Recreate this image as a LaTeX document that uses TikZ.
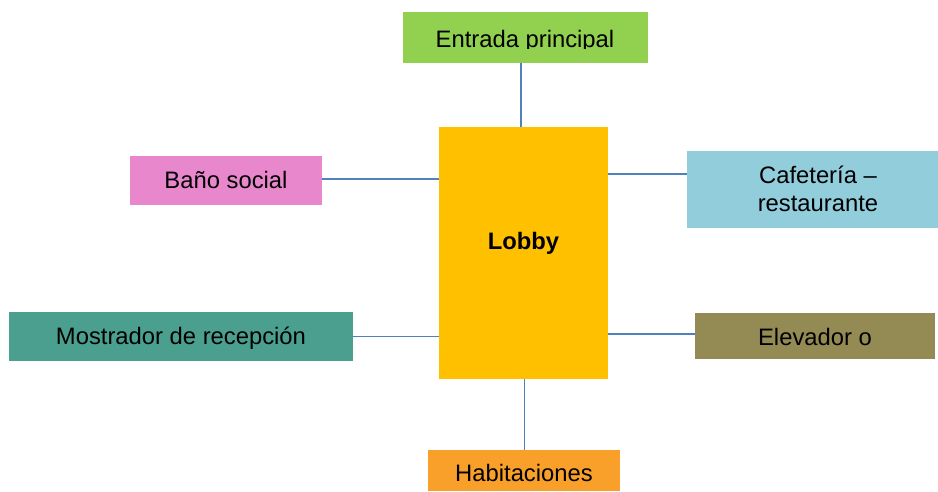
\documentclass[tikz,border=0pt]{standalone}
\usepackage{fontspec}
\setmainfont{Liberation Sans}
\definecolor{cGreen}{HTML}{92D050}
\definecolor{cLobby}{HTML}{FFC000}
\definecolor{cPink}{HTML}{E987CD}
\definecolor{cAqua}{HTML}{92CDDC}
\definecolor{cTeal}{HTML}{4A9F8F}
\definecolor{cOlive}{HTML}{948A54}
\definecolor{cOrange}{HTML}{F9A02A}
\definecolor{cLink}{HTML}{4F81BD}
\begin{document}
\begin{tikzpicture}[x=1pt,y=-1pt,
  box/.style={draw=none, inner sep=0pt, outer sep=0pt, anchor=north west,
    font=\fontsize{23.8}{28}\selectfont, align=center},
  bl/.style={text height=12pt+#1, text depth=12pt-#1},
  link/.style={draw=cLink, line width=1.9pt}]
\useasboundingbox (0,0) rectangle (938,491);
% boxes
\node[box, fill=cLobby, minimum width=169pt, minimum height=252pt, bl=-4pt,
  font=\bfseries\fontsize{23.8}{28}\selectfont] (lobby) at (439,127) {Lobby};
\node[box, fill=cGreen, minimum width=245pt, minimum height=51pt] (entrada) at (403,12) {};
\begin{scope}
  \clip (403,12) rectangle (648,48);
  \node[anchor=base, inner sep=0pt, font=\fontsize{23.8}{28}\selectfont] (entradatxt) at (525,47) {Entrada principal};
\end{scope}
\node[box, fill=cPink, minimum width=192pt, minimum height=49pt, bl=7.5pt] (bano) at (130,156) {Baño social};
\node[box, fill=cAqua, minimum width=262pt, minimum height=77pt, text height=43pt, text depth=0pt] (cafe) at (687,151) {Cafetería –\\restaurante};
\node[box, fill=cTeal, minimum width=344pt, minimum height=49pt, bl=7.5pt] (mostrador) at (9,312) {Mostrador de recepción};
\node[box, fill=cOlive, minimum width=240pt, minimum height=46pt, bl=9pt] (elevador) at (695,313) {Elevador o};
\node[box, fill=cOrange, minimum width=192pt, minimum height=41pt, bl=10.5pt] (habit) at (428,450) {Habitaciones};
% connectors
\draw[link] ([xshift=-2.5pt]lobby.north) -- ([xshift=-2.5pt]lobby.north |- entrada.south);
\draw[link] ([xshift=1pt]lobby.south) -- ([xshift=1pt]lobby.south |- habit.north);
\draw[link] ([yshift=1.5pt]bano.east) -- ([yshift=1.5pt]bano.east -| lobby.west);
\draw[link] (mostrador.east) -- (mostrador.east -| lobby.west);
\draw[link] ([yshift=15.5pt]cafe.west) -- ([yshift=15.5pt]cafe.west -| lobby.east);
\draw[link] ([yshift=2pt]elevador.west) -- ([yshift=2pt]elevador.west -| lobby.east);
\end{tikzpicture}
\end{document}
